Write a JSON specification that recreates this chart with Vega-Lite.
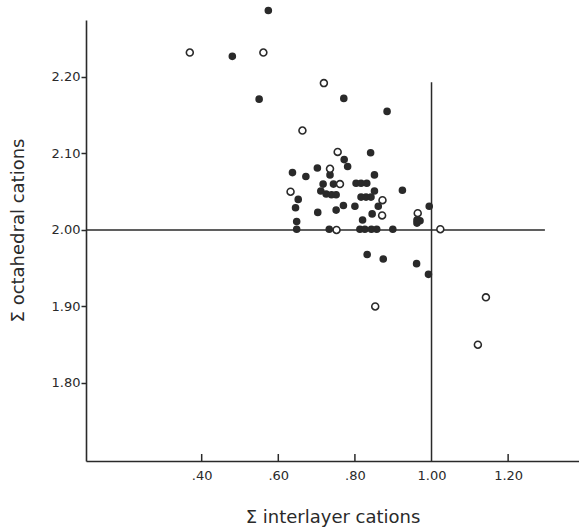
{
  "$schema": "https://vega.github.io/schema/vega-lite/v6.json",
  "width": 493,
  "height": 441,
  "autosize": {"type": "none"},
  "padding": {"left": 86, "top": 20, "right": 0, "bottom": 70},
  "background": "white",
  "config": {
    "view": {"stroke": null},
    "axis": {
      "grid": false,
      "domainColor": "#2a2a2a",
      "domainWidth": 1.6,
      "tickColor": "#2a2a2a",
      "tickWidth": 1.5,
      "labelFont": "DejaVu Sans",
      "labelFontSize": 13,
      "labelColor": "#2a2a2a",
      "titleFont": "DejaVu Sans",
      "titleFontSize": 18,
      "titleFontWeight": "normal",
      "titleColor": "#2a2a2a"
    }
  },
  "layer": [
    {
      "data": {"values": [{"x": 0.098, "x2": 1.296, "y": 2.0}]},
      "mark": {"type": "rule", "color": "#2a2a2a", "strokeWidth": 1.5},
      "encoding": {
        "x": {"field": "x", "type": "quantitative", "title": "Σ interlayer cations"},
        "x2": {"field": "x2"},
        "y": {"field": "y", "type": "quantitative", "title": "Σ octahedral cations"}
      }
    },
    {
      "data": {"values": [{"x": 1.0, "y": 1.698, "y2": 2.193}]},
      "mark": {"type": "rule", "color": "#2a2a2a", "strokeWidth": 1.5},
      "encoding": {
        "x": {"field": "x", "type": "quantitative", "title": "Σ interlayer cations"},
        "y": {"field": "y", "type": "quantitative", "title": "Σ octahedral cations"},
        "y2": {"field": "y2"}
      }
    },
    {
      "data": {"values": [
        {"x": 0.4, "y": 1.698}, {"x": 0.6, "y": 1.698}, {"x": 0.8, "y": 1.698}, {"x": 1.2, "y": 1.698}
      ]},
      "mark": {"type": "tick", "orient": "vertical", "color": "#2a2a2a", "thickness": 1.5, "size": 7, "yOffset": -3.5, "opacity": 1},
      "encoding": {
        "x": {"field": "x", "type": "quantitative", "title": "Σ interlayer cations"},
        "y": {"field": "y", "type": "quantitative", "title": "Σ octahedral cations"}
      }
    },
    {
      "data": {"values": [
        {"x": 0.574, "y": 2.287, "t": "filled"},
        {"x": 0.369, "y": 2.232, "t": "open"},
        {"x": 0.480, "y": 2.227, "t": "filled"},
        {"x": 0.561, "y": 2.232, "t": "open"},
        {"x": 0.550, "y": 2.171, "t": "filled"},
        {"x": 0.719, "y": 2.192, "t": "open"},
        {"x": 0.771, "y": 2.172, "t": "filled"},
        {"x": 0.884, "y": 2.155, "t": "filled"},
        {"x": 0.663, "y": 2.130, "t": "open"},
        {"x": 0.755, "y": 2.102, "t": "open"},
        {"x": 0.841, "y": 2.101, "t": "filled"},
        {"x": 0.772, "y": 2.092, "t": "filled"},
        {"x": 0.781, "y": 2.083, "t": "filled"},
        {"x": 0.637, "y": 2.075, "t": "filled"},
        {"x": 0.672, "y": 2.070, "t": "filled"},
        {"x": 0.702, "y": 2.081, "t": "filled"},
        {"x": 0.735, "y": 2.072, "t": "filled"},
        {"x": 0.851, "y": 2.072, "t": "filled"},
        {"x": 0.717, "y": 2.060, "t": "filled"},
        {"x": 0.744, "y": 2.060, "t": "filled"},
        {"x": 0.711, "y": 2.051, "t": "filled"},
        {"x": 0.725, "y": 2.047, "t": "filled"},
        {"x": 0.739, "y": 2.046, "t": "filled"},
        {"x": 0.751, "y": 2.046, "t": "filled"},
        {"x": 0.803, "y": 2.061, "t": "filled"},
        {"x": 0.816, "y": 2.061, "t": "filled"},
        {"x": 0.831, "y": 2.061, "t": "filled"},
        {"x": 0.851, "y": 2.051, "t": "filled"},
        {"x": 0.924, "y": 2.052, "t": "filled"},
        {"x": 0.652, "y": 2.040, "t": "filled"},
        {"x": 0.645, "y": 2.029, "t": "filled"},
        {"x": 0.703, "y": 2.023, "t": "filled"},
        {"x": 0.816, "y": 2.043, "t": "filled"},
        {"x": 0.829, "y": 2.043, "t": "filled"},
        {"x": 0.842, "y": 2.043, "t": "filled"},
        {"x": 0.861, "y": 2.031, "t": "filled"},
        {"x": 0.770, "y": 2.032, "t": "filled"},
        {"x": 0.751, "y": 2.026, "t": "filled"},
        {"x": 0.800, "y": 2.031, "t": "filled"},
        {"x": 0.845, "y": 2.021, "t": "filled"},
        {"x": 0.820, "y": 2.013, "t": "filled"},
        {"x": 0.648, "y": 2.011, "t": "filled"},
        {"x": 0.648, "y": 2.001, "t": "filled"},
        {"x": 0.733, "y": 2.001, "t": "filled"},
        {"x": 0.813, "y": 2.001, "t": "filled"},
        {"x": 0.826, "y": 2.001, "t": "filled"},
        {"x": 0.843, "y": 2.001, "t": "filled"},
        {"x": 0.857, "y": 2.001, "t": "filled"},
        {"x": 0.899, "y": 2.001, "t": "filled"},
        {"x": 0.962, "y": 2.013, "t": "filled"},
        {"x": 0.970, "y": 2.012, "t": "filled"},
        {"x": 0.962, "y": 2.009, "t": "filled"},
        {"x": 0.994, "y": 2.031, "t": "filled"},
        {"x": 0.832, "y": 1.968, "t": "filled"},
        {"x": 0.874, "y": 1.962, "t": "filled"},
        {"x": 0.961, "y": 1.956, "t": "filled"},
        {"x": 0.992, "y": 1.942, "t": "filled"},
        {"x": 0.735, "y": 2.080, "t": "open"},
        {"x": 0.761, "y": 2.060, "t": "open"},
        {"x": 0.632, "y": 2.050, "t": "open"},
        {"x": 0.872, "y": 2.039, "t": "open"},
        {"x": 0.871, "y": 2.019, "t": "open"},
        {"x": 0.752, "y": 2.000, "t": "open"},
        {"x": 0.964, "y": 2.022, "t": "open"},
        {"x": 1.023, "y": 2.001, "t": "open"},
        {"x": 0.853, "y": 1.900, "t": "open"},
        {"x": 1.142, "y": 1.912, "t": "open"},
        {"x": 1.121, "y": 1.850, "t": "open"}
      ]},
      "mark": {"type": "point", "shape": "circle", "filled": true, "stroke": "#2a2a2a", "strokeWidth": 1.6, "opacity": 1, "clip": false},
      "encoding": {
        "x": {
          "field": "x", "type": "quantitative", "title": "Σ interlayer cations",
          "scale": {"domain": [0.098, 1.385], "nice": false, "zero": false},
          "axis": {
            "values": [0.4, 0.6, 0.8, 1.0, 1.2],
            "labelExpr": "datum.value < 1 ? slice(format(datum.value, '.2f'), 1) : format(datum.value, '.2f')",
            "ticks": false,
            "labelPadding": 8,
            "titleBaseline": "alphabetic",
            "titleY": 61
          }
        },
        "y": {
          "field": "y", "type": "quantitative", "title": "Σ octahedral cations",
          "scale": {"domain": [1.698, 2.2745], "nice": false, "zero": false},
          "axis": {
            "values": [1.8, 1.9, 2.0, 2.1, 2.2],
            "format": ".2f",
            "tickSize": 5,
            "labelPadding": 1,
            "titleX": -68,
            "titleY": 210,
            "titleAngle": -90,
            "titleBaseline": "middle",
            "titleAlign": "center"
          }
        },
        "fill": {
          "field": "t", "type": "nominal", "legend": null,
          "scale": {"domain": ["filled", "open"], "range": ["#2a2a2a", "white"]}
        },
        "size": {
          "field": "t", "type": "nominal", "legend": null,
          "scale": {"domain": ["filled", "open"], "range": [36, 48]}
        },
        "order": {"field": "t", "type": "nominal", "sort": "ascending"}
      }
    }
  ]
}
